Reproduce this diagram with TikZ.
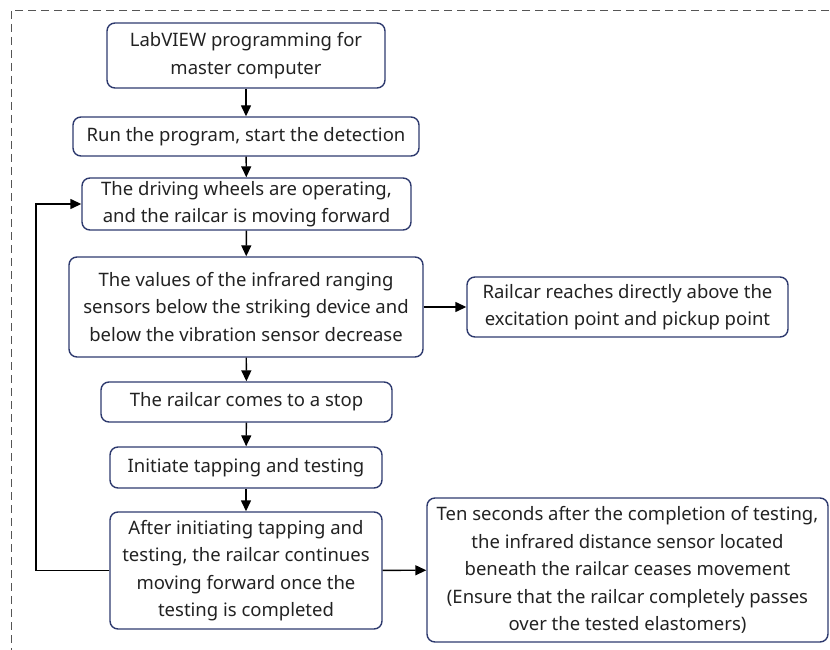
\documentclass[tikz,border=0pt]{standalone}
\usepackage{fontspec}
\setmainfont{Noto Sans}
\usetikzlibrary{arrows.meta}
\definecolor{boxline}{HTML}{2E3A6E}
\definecolor{txt}{HTML}{222222}
\definecolor{frame}{HTML}{555555}
\begin{document}
\begin{tikzpicture}[x=1pt,y=-1pt,
  box/.style={draw=boxline, line width=1.4pt, rounded corners=8pt, align=center,
    text=txt, font=\fontsize{18.5}{27.5}\selectfont, inner sep=0pt},
  arr/.style={-{Triangle[length=11pt,width=10pt]}, line width=1.4pt, black}]
\useasboundingbox (0,0) rectangle (830,650);
\draw[frame, line width=1pt, dash pattern=on 8pt off 5pt] (11,11) rectangle (845,665);

\node[box, minimum width=278pt, minimum height=65pt] (n1) at (246,55.5)
  {LabVIEW programming for\\master computer};
\node[box, minimum width=346pt, minimum height=39pt] (n2) at (246,136.5)
  {Run the program, start the detection};
\node[box, minimum width=329pt, minimum height=52pt] (n3) at (246.5,204)
  {The driving wheels are operating,\\and the railcar is moving forward};
\node[box, minimum width=354pt, minimum height=100pt] (n4) at (246,307)
  {The values of the infrared ranging\\sensors below the striking device and\\below the vibration sensor decrease};
\node[box, minimum width=321pt, minimum height=60pt] (n5) at (627.5,307)
  {Railcar reaches directly above the\\excitation point and pickup point};
\node[box, minimum width=291pt, minimum height=40pt] (n6) at (246.5,402)
  {The railcar comes to a stop};
\node[box, minimum width=272pt, minimum height=41pt] (n7) at (246,467.5)
  {Initiate tapping and testing};
\node[box, minimum width=272pt, minimum height=117pt] (n8) at (246,570.5)
  {After initiating tapping and\\testing, the railcar continues\\moving forward once the\\testing is completed};
\node[box, minimum width=401pt, minimum height=144pt] (n9) at (627.5,570)
  {Ten seconds after the completion of testing,\\the infrared distance sensor located\\beneath the railcar ceases movement\\(Ensure that the railcar completely passes\\over the tested elastomers)};

\coordinate (loopx) at (36,0);

\draw[arr] (n1) -- (n2);
\draw[arr] (n2) -- (n3);
\draw[arr] (n3) -- (n4);
\draw[arr] (n4) -- (n5);
\draw[arr] (n4) -- (n6);
\draw[arr] (n6) -- (n7);
\draw[arr] (n7) -- (n8);
\draw[arr] (n8) -- (n9);
\draw[arr] (n8.west) -- (n8.west -| loopx) -- (n3.west -| loopx) -- (n3.west);
\end{tikzpicture}
\end{document}
